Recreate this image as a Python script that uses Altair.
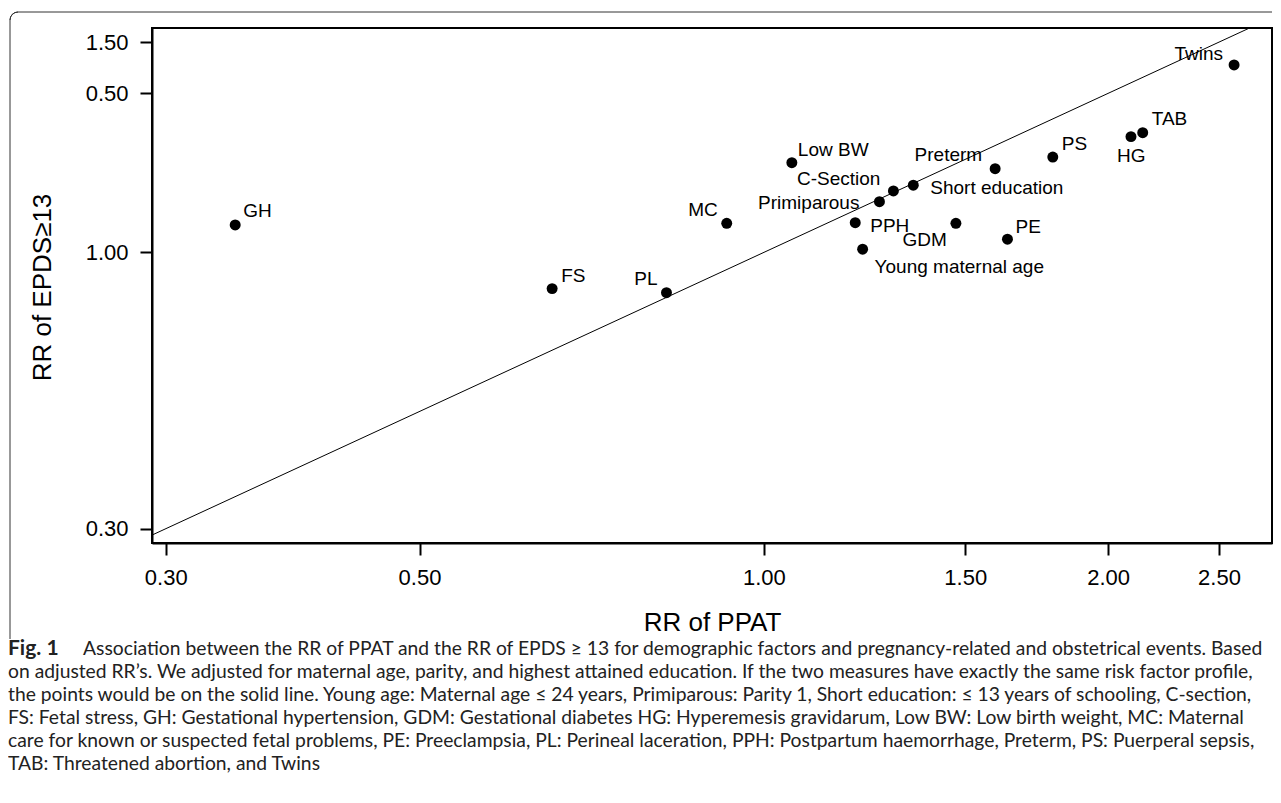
import math
import altair as alt
import pandas as pd

# ---- data ----
names = ["GH", "FS", "PL", "MC", "Low BW", "C-Section", "Primiparous", "PPH",
         "Young maternal age", "Short education", "GDM", "Preterm", "PE", "PS",
         "HG", "TAB", "Twins"]
rr_ppat = [0.345, 0.653, 0.822, 0.928, 1.058, 1.298, 1.262, 1.202,
           1.220, 1.351, 1.472, 1.593, 1.633, 1.789, 2.094, 2.144, 2.577]
rr_epds = [1.127, 0.854, 0.839, 1.135, 1.478, 1.307, 1.247, 1.138,
           1.014, 1.340, 1.135, 1.440, 1.059, 1.515, 1.656, 1.685, 2.263]

x_tick_values = [0.3, 0.5, 1.0, 1.5, 2.0, 2.5]
x_tick_labels = ["0.30", "0.50", "1.00", "1.50", "2.00", "2.50"]
y_tick_values = [0.3, 1.0, 2.0, 2.5]
y_tick_labels = ["0.30", "1.00", "0.50", "1.50"]
x_domain = [0.2918, 2.7814]
y_domain = [0.2819, 2.6585]
identity_rr = [0.28, 2.8]

x_title = "RR of PPAT"
y_title = "RR of EPDS\u226513"

caption_bold = "Fig. 1"
caption_first = ("Association between the RR of PPAT and the RR of EPDS \u2265 13 for demographic "
                 "factors and pregnancy-related and obstetrical events. Based")
caption_lines = [
    "on adjusted RR\u2019s. We adjusted for maternal age, parity, and highest attained education. If the two measures have exactly the same risk factor profile,",
    "the points would be on the solid line. Young age: Maternal age \u2264 24 years, Primiparous: Parity 1, Short education: \u2264 13 years of schooling, C-section,",
    "FS: Fetal stress, GH: Gestational hypertension, GDM: Gestational diabetes HG: Hyperemesis gravidarum, Low BW: Low birth weight, MC: Maternal",
    "care for known or suspected fetal problems, PE: Preeclampsia, PL: Perineal laceration, PPH: Postpartum haemorrhage, Preterm, PS: Puerperal sepsis,",
    "TAB: Threatened abortion, and Twins",
]

# ---- label placement (style) ----
label_place = {
    "GH": ("left", 8, -14), "FS": ("left", 9, -13), "PL": ("right", -9, -14),
    "MC": ("right", -9, -13), "Low BW": ("left", 6, -13), "C-Section": ("right", -13, -12),
    "Primiparous": ("right", -20, 1), "PPH": ("left", 15, 3),
    "Young maternal age": ("left", 12, 18), "Short education": ("left", 17, 3),
    "GDM": ("right", -9, 17), "Preterm": ("right", -13, -14), "PE": ("left", 8, -12),
    "PS": ("left", 9, -13), "HG": ("left", -14, 19), "TAB": ("left", 9, -14),
    "Twins": ("right", -11, -11),
}

W, H = 1120, 515
FONT = "Liberation Sans"
CAP_FONT = "Lato"


def label_expr(values, labels):
    parts = [f"abs(datum.value - {v}) < 1e-6 ? '{l}'" for v, l in zip(values, labels)]
    return " : ".join(parts) + " : ''"


xscale = alt.Scale(type="log", domain=x_domain, nice=False, zero=False)
yscale = alt.Scale(type="log", domain=y_domain, nice=False, zero=False)
xaxis = alt.Axis(values=x_tick_values, labelExpr=label_expr(x_tick_values, x_tick_labels),
                 title=x_title, titleX=W / 2, titleY=66, titleBaseline="top",
                 titleAlign="center", labelFlush=False, labelOverlap=False)
yaxis = alt.Axis(values=y_tick_values, labelExpr=label_expr(y_tick_values, y_tick_labels),
                 title=y_title, titleX=-97, titleY=259, titleAngle=270,
                 titleAlign="center", titleBaseline="bottom",
                 labelFlush=False, labelOverlap=False)

df = pd.DataFrame({"name": names, "ppat": rr_ppat, "epds": rr_epds})
ident = pd.DataFrame({"v": identity_rr})
one = pd.DataFrame({"k": [0]})

line = alt.Chart(ident).mark_line(clip=True, color="black", strokeWidth=1).encode(
    x=alt.X("v:Q", scale=xscale, axis=xaxis),
    y=alt.Y("v:Q", scale=yscale, axis=yaxis),
)

base = alt.Chart(df).encode(
    x=alt.X("ppat:Q", scale=xscale, axis=xaxis),
    y=alt.Y("epds:Q", scale=yscale, axis=yaxis),
)
points = base.mark_circle(size=120, color="black", opacity=1)

label_layers = []
for n in names:
    align, dx, dy = label_place[n]
    label_layers.append(
        base.transform_filter(alt.datum.name == n).mark_text(
            align=align, baseline="middle", dx=dx, dy=dy, font=FONT, fontSize=19,
            color="black"
        ).encode(text="name:N")
    )

# figure frame (top & left edges with rounded corner)
BORDER = "#333333"
top_edge = alt.Chart(one).mark_rule(color=BORDER, strokeWidth=1).encode(
    x=alt.value(-134), x2=alt.value(W), y=alt.value(-16))
left_edge = alt.Chart(one).mark_rule(color=BORDER, strokeWidth=1).encode(
    x=alt.value(-142), y=alt.value(-8), y2=alt.value(611))
corner = alt.Chart(one).mark_arc(
    radius=8, radius2=8, theta=3 * math.pi / 2, theta2=2 * math.pi,
    fill="transparent", stroke=BORDER, strokeWidth=1
).encode(x=alt.value(-134), y=alt.value(-8))

# caption
CAP_Y0, CAP_DY, CAP_FS = 621, 23, 19.3
cap_layers = [
    alt.Chart(one).mark_text(align="left", baseline="middle", font=CAP_FONT,
                             fontSize=21, fontWeight="bold", color="#222222").encode(
        x=alt.value(-144), y=alt.value(CAP_Y0), text=alt.value(caption_bold)),
    alt.Chart(one).mark_text(align="left", baseline="middle", font=CAP_FONT,
                             fontSize=CAP_FS, color="#222222").encode(
        x=alt.value(-69), y=alt.value(CAP_Y0), text=alt.value(caption_first)),
]
for i, ln in enumerate(caption_lines):
    cap_layers.append(
        alt.Chart(one).mark_text(align="left", baseline="middle", font=CAP_FONT,
                                 fontSize=CAP_FS, color="#222222").encode(
            x=alt.value(-144), y=alt.value(CAP_Y0 + CAP_DY * (i + 1)), text=alt.value(ln))
    )

chart = alt.layer(
    line, points, *label_layers, top_edge, left_edge, corner, *cap_layers
).properties(
    width=W, height=H,
    padding={"left": 0, "top": 2, "right": 0, "bottom": 4},
    background="white",
).configure_view(
    stroke="black", strokeWidth=2
).configure_axis(
    domainColor="black", domainWidth=2, tickColor="black", tickWidth=2, tickSize=12,
    labelFont=FONT, labelFontSize=22, labelColor="black", labelPadding=12,
    titleFont=FONT, titleFontSize=26, titleFontWeight="normal", titleColor="black",
    grid=False,
)

chart.save("out.html", embed_options={"renderer": "svg", "actions": False})
